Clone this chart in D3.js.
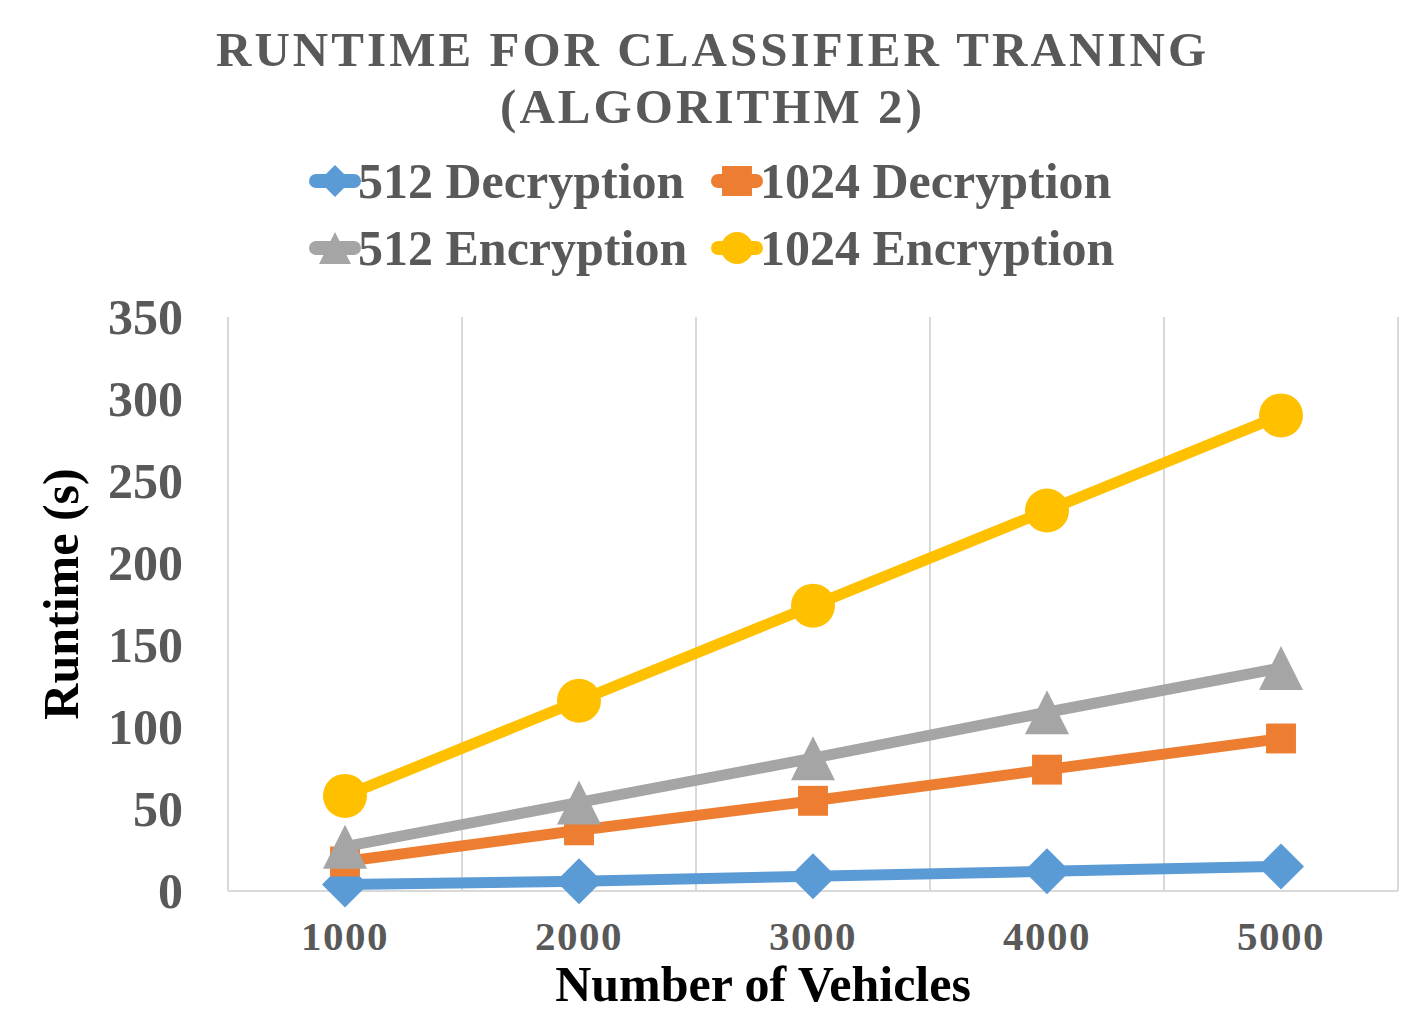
<!DOCTYPE html>
<html>
<head>
<meta charset="utf-8">
<script src="https://cdn.jsdelivr.net/npm/d3@7"></script>
<style>
  html, body { margin: 0; padding: 0; background: #fff; }
  text { font-family: "Liberation Serif", "Times New Roman", serif; font-weight: bold; }
</style>
</head>
<body>
<div id="chart"></div>
<script>
// --- dados ---
const categories = ["1000", "2000", "3000", "4000", "5000"];
const seriesNames = ["512 Decryption", "1024 Decryption", "512 Encryption", "1024 Encryption"];
const dec512 = [4, 6, 9, 12, 15];
const dec1024 = [18, 37, 55, 74, 93];
const enc512 = [27, 54, 81, 109, 136];
const enc1024 = [58, 116, 174, 232, 290];
const yTicks = [0, 50, 100, 150, 200, 250, 300, 350];
const titleLines = ["RUNTIME FOR CLASSIFIER TRANING", "(ALGORITHM 2)"];

const colors = ["#5B9BD5", "#ED7D31", "#A5A5A5", "#FFC000"];
const markers = ["diamond", "square", "triangle", "circle"];
const series = [dec512, dec1024, enc512, enc1024].map((v, i) => ({
  name: seriesNames[i], values: v, color: colors[i], marker: markers[i]
}));

const W = 1422, H = 1033;
const plot = { left: 228, right: 1398, top: 317, bottom: 891 };

const svg = d3.select("#chart").append("svg")
  .attr("width", W).attr("height", H)
  .attr("viewBox", [0, 0, W, H]);

const x = d3.scaleBand().domain(categories).range([plot.left, plot.right]);
const y = d3.scaleLinear().domain([0, 350]).range([plot.bottom, plot.top]);

// título
svg.append("text").attr("x", 711).attr("y", 66).attr("text-anchor", "middle")
  .attr("font-size", 49).attr("fill", "#595959")
  .attr("textLength", 990).attr("lengthAdjust", "spacing")
  .text(titleLines[0]);
svg.append("text").attr("x", 711).attr("y", 123).attr("text-anchor", "middle")
  .attr("font-size", 49).attr("fill", "#595959")
  .attr("textLength", 422).attr("lengthAdjust", "spacing")
  .text(titleLines[1]);

// grelha vertical entre categorias
const bounds = categories.map(c => x(c)).concat([plot.right]);
svg.append("g").selectAll("line").data(bounds).join("line")
  .attr("x1", d => d).attr("x2", d => d)
  .attr("y1", plot.top).attr("y2", plot.bottom)
  .attr("stroke", "#D9D9D9").attr("stroke-width", 2);

// eixo x (linha)
svg.append("line")
  .attr("x1", plot.left).attr("x2", plot.right)
  .attr("y1", y(0)).attr("y2", y(0))
  .attr("stroke", "#D9D9D9").attr("stroke-width", 2);

// etiquetas eixo y
const yAxis = svg.append("g")
  .attr("transform", `translate(${plot.left},0)`)
  .call(d3.axisLeft(y).tickValues(yTicks).tickSize(0).tickPadding(45));
yAxis.select(".domain").remove();
yAxis.selectAll("text")
  .attr("font-size", 50).attr("fill", "#595959")
  .attr("font-family", "Liberation Serif").attr("font-weight", "bold");

// etiquetas eixo x
const xAxis = svg.append("g")
  .attr("transform", `translate(0,${plot.bottom})`)
  .call(d3.axisBottom(x).tickSize(0).tickPadding(30));
xAxis.select(".domain").remove();
xAxis.selectAll("text")
  .attr("font-size", 41).attr("fill", "#595959")
  .attr("letter-spacing", 1.5)
  .attr("font-family", "Liberation Serif").attr("font-weight", "bold");

// títulos dos eixos
svg.append("text").attr("x", 763).attr("y", 1001).attr("text-anchor", "middle")
  .attr("font-size", 50).attr("fill", "#000").text("Number of Vehicles");
svg.append("text").attr("transform", "translate(78,594) rotate(-90)")
  .attr("text-anchor", "middle")
  .attr("font-size", 50).attr("fill", "#000").text("Runtime (s)");

function markerPath(type, s) {
  if (type === "diamond") return `M0,${-s}L${s},0L0,${s}L${-s},0Z`;
  if (type === "square") return `M${-s * 0.68},${-s * 0.68}h${s * 1.36}v${s * 1.36}h${-s * 1.36}Z`;
  if (type === "triangle") return `M0,${-s}L${s},${s}L${-s},${s}Z`;
  return d3.arc()({ innerRadius: 0, outerRadius: s, startAngle: 0, endAngle: 2 * Math.PI });
}

const line = d3.line()
  .x((d, i) => x(categories[i]) + x.bandwidth() / 2)
  .y(d => y(d));

const sizes = { diamond: 23, square: 22, triangle: 22, circle: 22 };

series.forEach(s => {
  const g = svg.append("g");
  g.append("path").attr("d", line(s.values))
    .attr("fill", "none").attr("stroke", s.color)
    .attr("stroke-width", 11).attr("stroke-linejoin", "round");
  g.selectAll("path.m").data(s.values).join("path").attr("class", "m")
    .attr("transform", (d, i) => `translate(${x(categories[i]) + x.bandwidth() / 2},${y(d)})`)
    .attr("d", markerPath(s.marker, sizes[s.marker]))
    .attr("fill", s.color);
});

// legenda
const legendPos = [
  { lx: 312, ly: 181 }, { lx: 714, ly: 181 },
  { lx: 312, ly: 248 }, { lx: 714, ly: 248 }
];
const legendSizes = { diamond: 16, square: 22, triangle: 16, circle: 16 };
series.forEach((s, i) => {
  const p = legendPos[i];
  const g = svg.append("g").attr("transform", `translate(${p.lx},${p.ly})`);
  g.append("line").attr("x1", 4).attr("x2", 42).attr("y1", 0).attr("y2", 0)
    .attr("stroke", s.color).attr("stroke-width", 14).attr("stroke-linecap", "round");
  g.append("path").attr("transform", "translate(23,0)")
    .attr("d", markerPath(s.marker, legendSizes[s.marker]))
    .attr("fill", s.color);
  g.append("text").attr("x", 46).attr("y", 17)
    .attr("font-size", 50).attr("fill", "#595959").text(s.name);
});
</script>
</body>
</html>
